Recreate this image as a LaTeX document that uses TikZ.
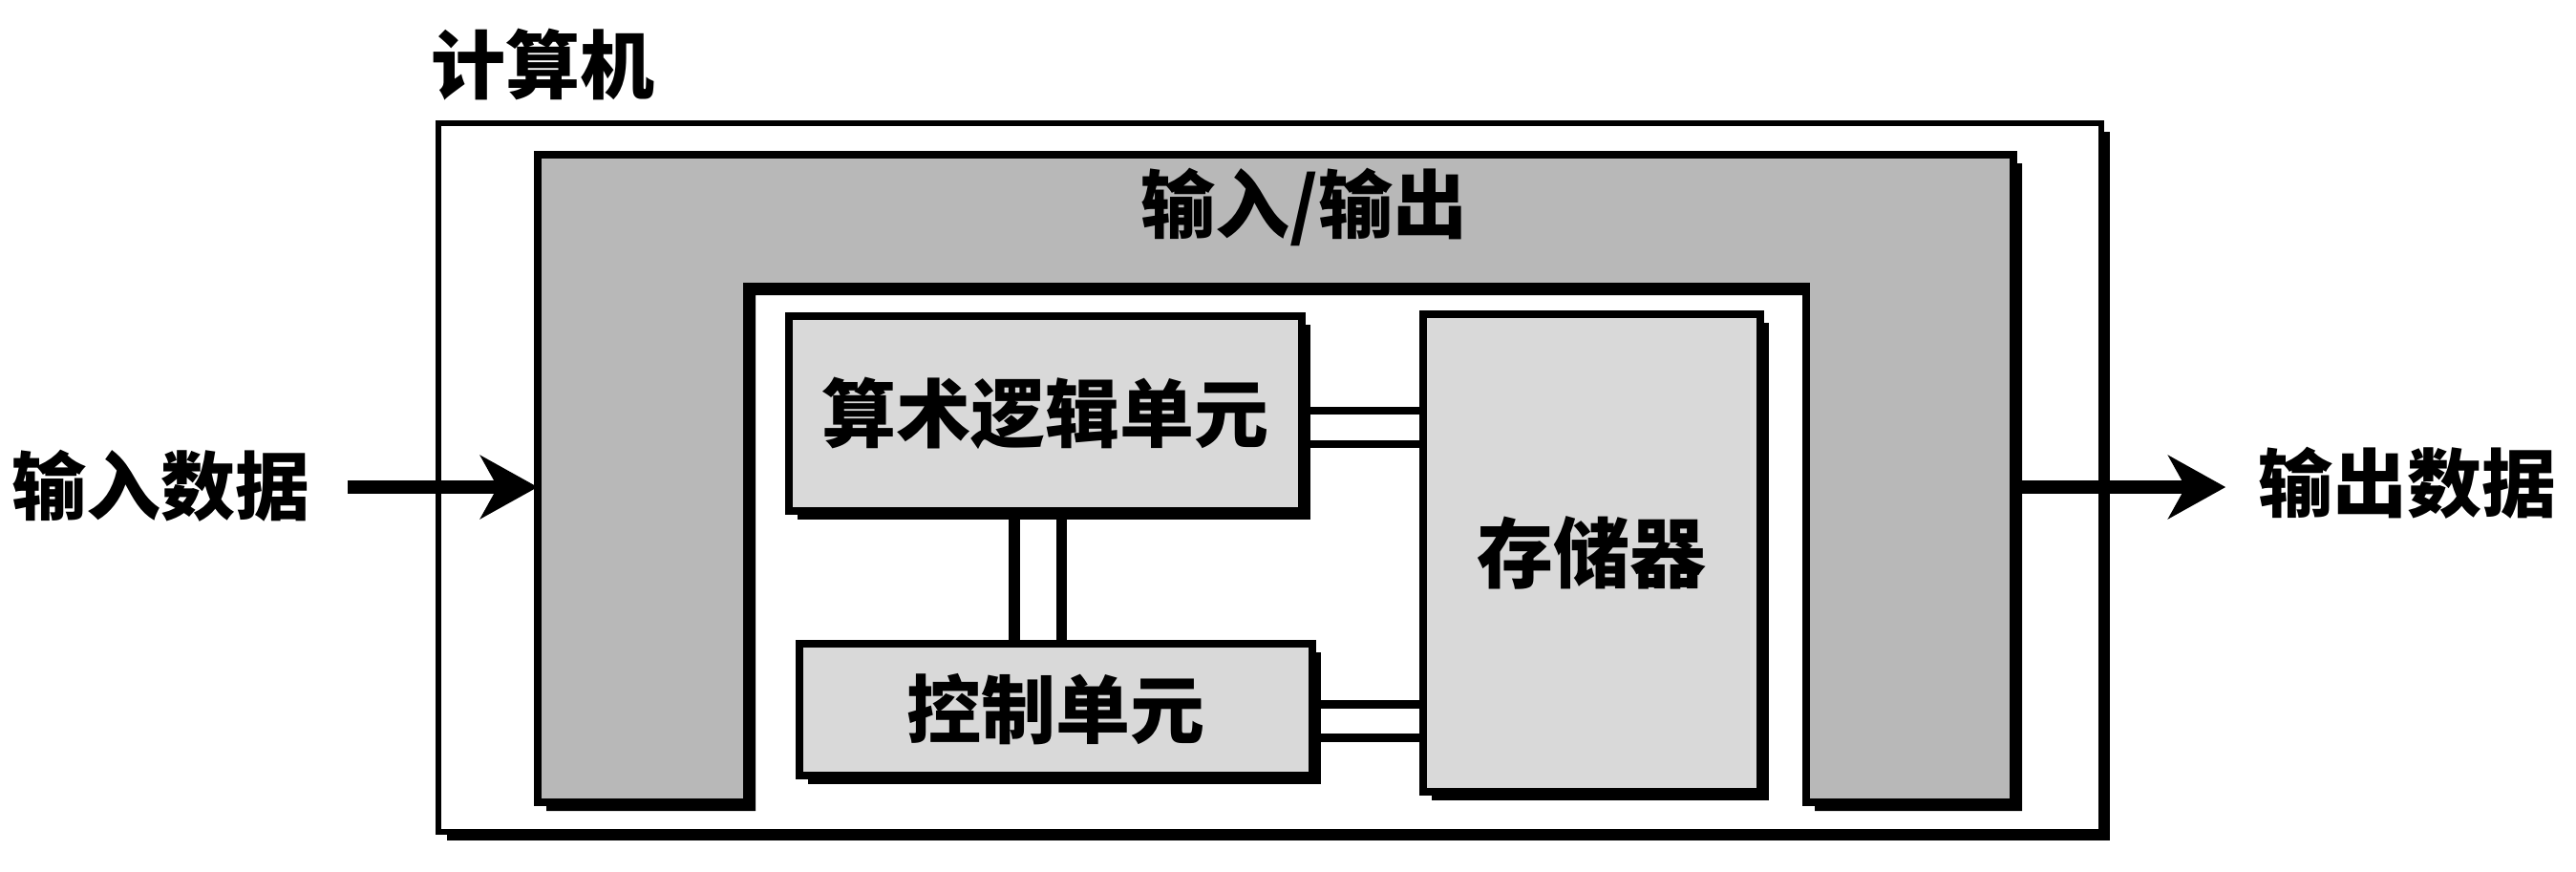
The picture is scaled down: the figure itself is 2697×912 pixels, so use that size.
\documentclass[tikz,border=0pt]{standalone}
\usepackage{fontspec}
\newfontfamily\cjk{Noto Sans CJK SC}
\usetikzlibrary{shadows,arrows.meta,calc}
\pgfdeclarelayer{back}
\pgfdeclarelayer{bg}
\pgfsetlayers{back,bg,main}
\begin{document}
\begin{tikzpicture}[x=0.25pt,y=-0.25pt,
  lbl/.style={font=\cjk\bfseries\fontsize{19.5pt}{21pt}\selectfont, inner sep=0pt},
  shad/.style={drop shadow={shadow xshift=2.3pt, shadow yshift=-2.3pt, fill=black, opacity=1}},
  outerbox/.style={draw=black, line width=1.6pt, fill=white, inner sep=0pt, shad},
  iopart/.style={draw=black, line width=2pt, fill=black!28, line join=miter, shad},
  unitbox/.style={draw=black, line width=2pt, fill=black!15, inner sep=0pt, shad, lbl},
  bus/.style={draw=black, line width=2.1pt, double=white, double distance=6.6pt},
  busv/.style={draw=black, line width=2.8pt, double=white, double distance=9.5pt},
  flow/.style={draw=black, line width=3.3pt, -{Stealth[length=15pt,width=16.5pt,inset=4.5pt]}}
]
\useasboundingbox (0,0) rectangle (2697,912);

% outer computer box and input/output part
\begin{pgfonlayer}{back}
\node[outerbox, minimum width=435.25pt, minimum height=185.5pt] (computer) at (1329.5,500) {};
\draw[iopart] (563,162) -- (2108,162) -- (2108,840) -- (1891,840) -- (1891,300)
  -- (782,300) -- (782,840) -- (563,840) -- cycle;
\end{pgfonlayer}
\node[lbl] (complbl) at (568,68) {计算机};
\node[lbl] (io) at (1365,217) {输入/输出};
\coordinate (ioL) at (563,510);
\coordinate (ioR) at (2108,510);

% units
\node[unitbox, minimum width=134.25pt, minimum height=51pt] (alu) at (1094.5,433) {算术逻辑单元};
\node[unitbox, minimum width=134.25pt, minimum height=34.5pt] (ctl) at (1105.5,743) {控制单元};
\node[unitbox, minimum width=88.25pt, minimum height=125pt, font=\cjk\bfseries\fontsize{20pt}{21pt}\selectfont] (mem) at (1666.5,579) {存储器};

% buses
\coordinate (busA) at (0,447.5);
\coordinate (busC) at (0,755);
\coordinate (busV) at (1086.5,0);
\begin{pgfonlayer}{bg}
\draw[bus] (alu.east |- busA) -- (mem.west |- busA);
\draw[bus] (ctl.east |- busC) -- (mem.west |- busC);
\draw[busv] (alu.south -| busV) -- (ctl.north -| busV);
\end{pgfonlayer}

% input / output
\node[lbl] (inlbl) at (168,509) {输入数据};
\node[lbl] (outlbl) at (2520,506) {输出数据};
\draw[flow] ([xshift=9.75pt]inlbl.east |- ioL) -- (ioL);
\draw[flow] (ioR) -- ([xshift=-8.25pt]outlbl.west |- ioR);
\end{tikzpicture}
\end{document}
